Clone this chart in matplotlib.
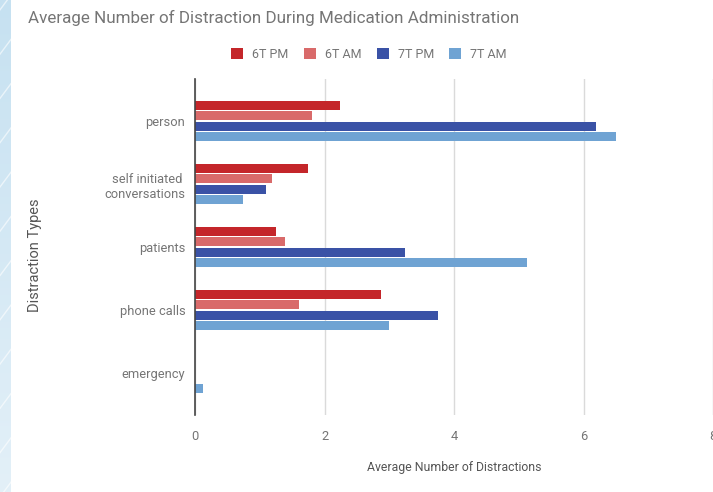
import matplotlib
matplotlib.use("Agg")
import matplotlib.pyplot as plt
import numpy as np

categories = ["person", "self initiated \nconversations", "patients", "phone calls", "emergency"]
series_names = ["6T PM", "6T AM", "7T PM", "7T AM"]
t6_pm = [2.24, 1.74, 1.25, 2.87, 0.0]
t6_am = [1.80, 1.19, 1.39, 1.60, 0.0]
t7_pm = [6.20, 1.10, 3.25, 3.75, 0.0]
t7_am = [6.50, 0.74, 5.12, 3.00, 0.12]
colors = ["#C4262A", "#D96A6A", "#3A52A6", "#6FA3D3"]
x_ticks = [0, 2, 4, 6, 8]

plt.rcParams["font.family"] = ["Roboto", "DejaVu Sans"]
text_gray = "#757575"

fig = plt.figure(figsize=(7.13, 4.92), dpi=100)
fig.patch.set_facecolor("white")

# decorative light-blue strip with faint diagonal streaks on the left edge
strip = fig.add_axes([0, 0, 11 / 713, 1])
grad = np.linspace(0, 1, 256).reshape(-1, 1)
strip.imshow(grad, aspect="auto", cmap=matplotlib.colors.LinearSegmentedColormap.from_list(
    "strip", ["#C6E1F1", "#E3F0F8"]), extent=[0, 1, 0, 1], origin="upper")
for y0 in np.arange(-0.1, 1.1, 0.09):
    strip.plot([0, 1], [y0, y0 + 0.03], color="white", alpha=0.6, linewidth=1)
strip.set_xlim(0, 1)
strip.set_ylim(0, 1)
strip.axis("off")

ax = fig.add_axes([195 / 713, 1 - 415 / 492, 518 / 713, 336 / 492])

series = [t6_pm, t6_am, t7_pm, t7_am]
y = np.arange(len(categories))
pitch = 0.166
h = 0.145
for i, (vals, name, c) in enumerate(zip(series, series_names, colors)):
    off = (i - 1.5) * pitch
    ax.barh(y + off, vals, height=h, color=c, label=name, zorder=3)

ax.set_ylim(4.67, -0.67)
ax.set_xlim(0, 8)
ax.set_xticks(x_ticks)
ax.set_yticks(y)
ax.set_yticklabels(categories)
ax.tick_params(axis="both", length=0, colors=text_gray, labelsize=9.3)
ax.tick_params(axis="x", pad=11)
ax.tick_params(axis="y", pad=7)
for lbl in ax.get_yticklabels():
    lbl.set_horizontalalignment("right")
    lbl.set_multialignment("right")

ax.grid(axis="x", color="#DADADA", linewidth=1, zorder=0)
for s in ["top", "right", "bottom"]:
    ax.spines[s].set_visible(False)
ax.spines["left"].set_color("#444444")
ax.spines["left"].set_linewidth(1.2)
ax.spines["left"].set_zorder(4)

fig.text(28 / 713, 1 - 18 / 492, "Average Number of Distraction During Medication Administration",
         fontsize=12.25, color=text_gray, va="center", ha="left")
fig.text(454 / 713, 1 - 468 / 492, "Average Number of Distractions",
         fontsize=8.8, color="#555555", va="center", ha="center")
fig.text(35 / 713, 1 - 255 / 492, "Distraction Types", rotation=90,
         fontsize=10.5, color="#555555", va="center", ha="center")

leg = fig.legend(loc="center", bbox_to_anchor=(369 / 713, 1 - 54 / 492), ncol=4,
                 frameon=False, fontsize=9, handlelength=0.96, handleheight=0.96,
                 handletextpad=0.7, columnspacing=1.25, borderpad=0)
for t in leg.get_texts():
    t.set_color(text_gray)

fig.savefig("out.png", dpi=100)
